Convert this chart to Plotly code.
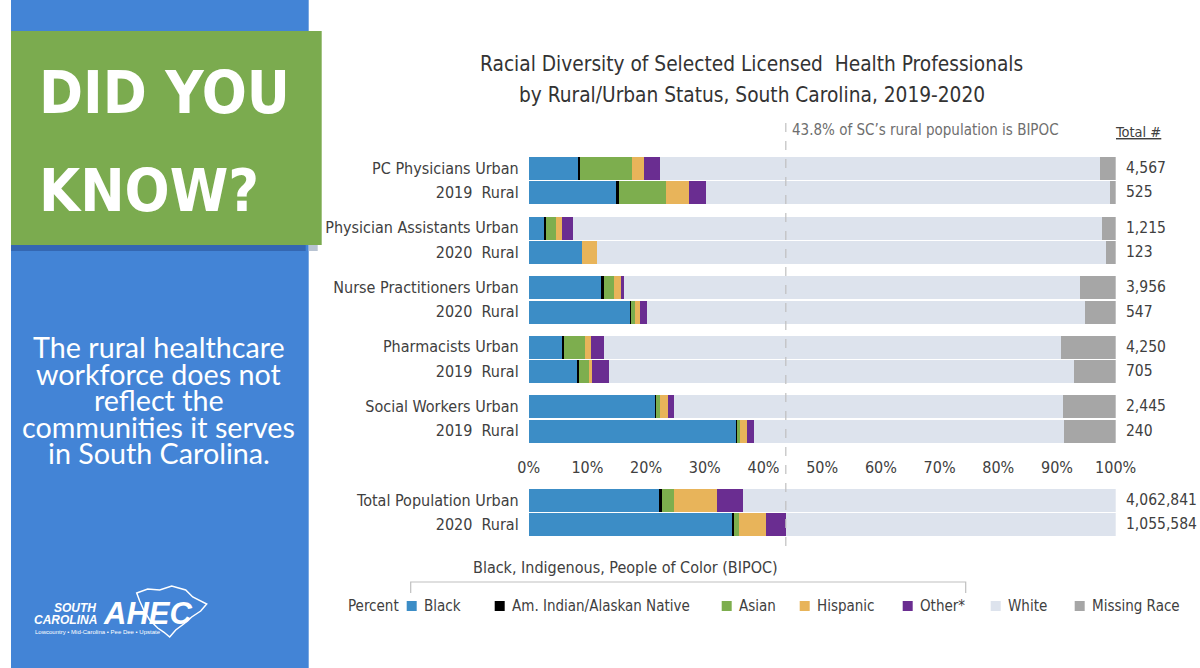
import plotly.graph_objects as go

W, H = 1200, 668

# ---------------- data ----------------
professions = ["PC Physicians", "Physician Assistants", "Nurse Practitioners", "Pharmacists", "Social Workers"]
years = ["2019", "2020", "2020", "2019", "2019"]
races = ["Black", "Am. Indian/Alaskan Native", "Asian", "Hispanic", "Other*", "White", "Missing Race"]
race_colors = ["#3C8DC6", "#000000", "#7DAE4E", "#E8B45A", "#6A2D91", "#DDE3ED", "#A6A6A6"]

# rows: PC U, PC R, PA U, PA R, NP U, NP R, Ph U, Ph R, SW U, SW R   (percent)
black    = [8.3, 14.9, 2.6, 9.0, 12.4, 17.3, 5.7, 8.3, 21.5, 35.4]
aian     = [0.4, 0.4, 0.3, 0.0, 0.3, 0.1, 0.3, 0.2, 0.2, 0.1]
asian    = [8.8, 8.1, 1.7, 0.0, 1.7, 0.6, 3.5, 1.7, 0.7, 0.4]
hispanic = [2.1, 3.9, 1.1, 2.5, 1.2, 0.9, 1.1, 0.5, 1.2, 1.2]
other    = [2.7, 2.8, 1.8, 0.0, 0.6, 1.2, 2.2, 3.0, 1.1, 1.2]
white    = [75.0, 68.9, 90.1, 86.8, 77.7, 74.7, 77.8, 79.1, 66.3, 52.9]
missing  = [2.7, 1.0, 2.4, 1.7, 6.1, 5.2, 9.4, 7.2, 9.0, 8.8]
totals   = ["4,567", "525", "1,215", "123", "3,956", "547", "4,250", "705", "2,445", "240"]

# total population rows: Urban, Rural
pop_black    = [22.3, 34.6]
pop_aian     = [0.3, 0.4]
pop_asian    = [2.1, 0.8]
pop_hispanic = [7.4, 4.5]
pop_other    = [4.3, 3.5]
pop_white    = [63.6, 56.2]
pop_totals   = ["4,062,841", "1,055,584"]
pop_year = "2020"

rural_bipoc = 43.8
x_ticks = [0, 10, 20, 30, 40, 50, 60, 70, 80, 90, 100]

# ---------------- helpers ----------------
# horizontal placement calibrated to the rendered page (paper spans ~11px..1179px)
X0, XW = 11.3, 1168.0

def px(x):
    return (x - X0) / XW

def py(y):
    return 1 - y / H

NARROW = "DejaVu Sans Condensed, sans-serif"
TXT = "#404040"
GROUP_STEP = 2.43

pos, labels = [], []
for g, (p, yr) in enumerate(zip(professions, years)):
    pos += [g * GROUP_STEP, g * GROUP_STEP + 1]
    labels += [f"{p} Urban", f"{yr}\u00a0\u00a0Rural"]
pop_pos = [0, 1]
pop_labels = ["Total Population Urban", f"{pop_year}\u00a0\u00a0Rural"]

fig = go.Figure()
series = [black, aian, asian, hispanic, other, white, missing]
pop_series = [pop_black, pop_aian, pop_asian, pop_hispanic, pop_other, pop_white, None]
for name, col, vals, pvals in zip(races, race_colors, series, pop_series):
    fig.add_trace(go.Bar(x=vals, y=pos, orientation="h", name=name, marker=dict(color=col, line=dict(width=0)),
                         width=0.94, xaxis="x", yaxis="y", showlegend=False, hoverinfo="name+x"))
    if pvals is not None:
        fig.add_trace(go.Bar(x=pvals, y=pop_pos, orientation="h", name=name, marker=dict(color=col, line=dict(width=0)),
                             width=0.94, xaxis="x2", yaxis="y2", showlegend=False, hoverinfo="name+x"))

top_max = pos[-1]
XDOM = [px(529), px(1116)]
fig.update_layout(
    width=W, height=H, autosize=False, margin=dict(l=0, r=0, t=0, b=0, pad=0),
    paper_bgcolor="white", plot_bgcolor="white", barmode="stack", bargap=0,
    xaxis=dict(domain=XDOM, range=[0, 100], anchor="y", tickvals=x_ticks,
               ticktext=[f"{v}%" for v in x_ticks], showgrid=False, zeroline=False, showline=False,
               ticks="", ticklabelstandoff=12, tickfont=dict(family=NARROW, size=16, color=TXT)),
    xaxis2=dict(domain=XDOM, range=[0, 100], anchor="y2", matches="x",
                showticklabels=False, showgrid=False, zeroline=False, showline=False, ticks=""),
    yaxis=dict(domain=[py(444.1), py(154.5)], range=[top_max + 0.55, -0.55], tickvals=pos, ticktext=labels,
               showgrid=False, zeroline=False, showline=False, ticks="", ticklabelstandoff=9,
               tickfont=dict(family=NARROW, size=16, color=TXT)),
    yaxis2=dict(domain=[py(537.9), py(486.5)], range=[1.55, -0.55], tickvals=pop_pos, ticktext=pop_labels,
                showgrid=False, zeroline=False, showline=False, ticks="", ticklabelstandoff=9,
                tickfont=dict(family=NARROW, size=16, color=TXT)),
    showlegend=False,
)

shapes = []
ann = []

def rect(x0, x1, y0, y1, col, layer="below"):
    shapes.append(dict(type="rect", xref="paper", yref="paper", x0=max(px(x0), 0), x1=px(x1), y0=py(y1), y1=py(y0),
                       fillcolor=col, line=dict(width=0), layer=layer))

def text(t, x, y, size, color=TXT, family=NARROW, xanchor="left", box_h=None, **fk):
    a = dict(text=t, x=px(x), y=py(y), xref="paper", yref="paper", xanchor=xanchor, yanchor="middle",
             showarrow=False, font=dict(family=family, size=size, color=color, **fk))
    if box_h:
        a["height"] = box_h
    ann.append(a)

# ---- left panel ----
rect(0, 309, 0, H, "#4384D6")
rect(0, 306, 244, 251, "#3467B2")
rect(309, 318, 244, 251, "#B8C3D2")
rect(0, 322, 31, 245, "#7BAB4F")

text("DID YOU", 37, 93, 59, "white", "DejaVu Sans Condensed, sans-serif", weight="bold")
text("KNOW?", 37, 190, 59, "white", "DejaVu Sans Condensed, sans-serif", weight="bold")

body = ["The rural healthcare", "workforce does not", "reflect the", "communities it serves", "in South Carolina."]
for i, line in enumerate(body):
    text(line, 159, 347 + 26.5 * i, 28.7, "white", "Lato", xanchor="center", box_h=26)

# logo
sc = [(137, 593), (148, 589), (160, 590), (172, 586), (186, 590), (193, 597), (207, 604), (201, 611), (192, 617),
      (184, 624), (176, 630), (170, 637), (164, 632), (158, 628), (150, 620), (144, 610), (140, 601)]
path = "M " + " L ".join(f"{px(a):.5f},{py(b):.5f}" for a, b in sc) + " Z"
shapes.append(dict(type="path", xref="paper", yref="paper", path=path, line=dict(color="white", width=1.5),
                   fillcolor="rgba(0,0,0,0)"))
logo_font = "Liberation Sans, sans-serif"
text("SOUTH", 98, 608, 12, "white", logo_font, xanchor="right", weight="bold", style="italic")
text("CAROLINA", 99, 620, 12, "white", logo_font, xanchor="right", weight="bold", style="italic")
text("AHEC", 101, 613, 31, "white", logo_font, weight="bold", style="italic")
text("Lowcountry • Mid-Carolina • Pee Dee • Upstate", 33, 632, 6, "white", logo_font)

# ---- chart texts ----
text("Racial Diversity of Selected Licensed  Health Professionals", 752, 64, 20.7, "#333333", xanchor="center")
text("by Rural/Urban Status, South Carolina, 2019-2020", 752, 95, 20.7, "#333333", xanchor="center")
text(f"{rural_bipoc}% of SC\u2019s rural population is BIPOC", 790, 130, 15, "#6E6E6E")
text("<span style='text-decoration:underline'>Total #</span>", 1113, 132, 14.5)

for p, t in zip(pos, totals):
    ann.append(dict(text=t, x=px(1124), y=p, xref="paper", yref="y", xanchor="left", yanchor="middle",
                    showarrow=False, font=dict(family=NARROW, size=15.5, color=TXT)))
for p, t in zip(pop_pos, pop_totals):
    ann.append(dict(text=t, x=px(1124), y=p, xref="paper", yref="y2", xanchor="left", yanchor="middle",
                    showarrow=False, font=dict(family=NARROW, size=15.5, color=TXT)))

# dashed reference line
shapes.append(dict(type="line", xref="x", yref="paper", x0=rural_bipoc, x1=rural_bipoc, y0=py(546), y1=py(121),
                   line=dict(color="#BFBFBF", width=1.2, dash="dash"), layer="above"))

# BIPOC bracket
text("Black, Indigenous, People of Color (BIPOC)", 626, 567, 16, xanchor="center")
shapes.append(dict(type="path", xref="paper", yref="paper",
                   path=f"M {px(411)},{py(593)} L {px(411)},{py(582)} L {px(966)},{py(582)} L {px(966)},{py(593)}",
                   line=dict(color="#BFBFBF", width=1.2)))

# custom legend
text("Percent", 346, 606, 15)
legend_x = [407, 495, 722, 800, 903, 991, 1075]
for name, col, lx in zip(races, race_colors, legend_x):
    rect(lx, lx + 10, 601, 611, col, layer="above")
    text(name, lx + 15, 606, 15)

fig.update_layout(shapes=shapes, annotations=ann)
fig.write_html("out.html", config={"responsive": False})
